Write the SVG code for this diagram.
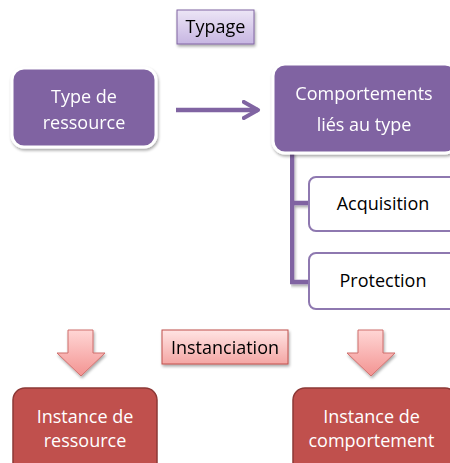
<svg xmlns="http://www.w3.org/2000/svg" width="450" height="463" viewBox="0 0 450 463">
  <defs>
    <linearGradient id="gPurple" x1="0" y1="0" x2="0" y2="1">
      <stop offset="0" stop-color="#ECE5F6"/>
      <stop offset="1" stop-color="#C7B6E2"/>
    </linearGradient>
    <linearGradient id="gPink" x1="0" y1="0" x2="0" y2="1">
      <stop offset="0" stop-color="#FFE4E3"/>
      <stop offset="1" stop-color="#F4A6A4"/>
    </linearGradient>
    <linearGradient id="gArrow" x1="0" y1="0" x2="0" y2="1">
      <stop offset="0" stop-color="#FFD6D5"/>
      <stop offset="1" stop-color="#F39492"/>
    </linearGradient>
    <filter id="shadow" x="-10%" y="-10%" width="130%" height="140%">
      <feGaussianBlur in="SourceAlpha" stdDeviation="1.5"/>
      <feOffset dx="1" dy="2" result="b"/>
      <feComponentTransfer><feFuncA type="linear" slope="0.35"/></feComponentTransfer>
      <feMerge><feMergeNode/><feMergeNode in="SourceGraphic"/></feMerge>
    </filter>
    <marker id="openHead" viewBox="0 0 10 10" refX="8" refY="5" markerWidth="4.5" markerHeight="4.5" orient="auto" markerUnits="strokeWidth">
      <path d="M1,1 L8,5 L1,9" fill="none" stroke="#8064A2" stroke-width="2" stroke-linecap="round" stroke-linejoin="round"/>
    </marker>
  </defs>
  <style>
    text { font-family: "Open Sans", "Liberation Sans", sans-serif; font-size: 18px; text-anchor: middle; }
    .light { fill: #FFFFFF; }
    .dark { fill: #000000; }
    .typeBox { fill: #8064A2; stroke: #FFFFFF; stroke-width: 3; }
    .childBox { fill: #FFFFFF; stroke: #8E78B0; stroke-width: 2; }
    .instBox { fill: #C0504D; stroke: #8C3836; stroke-width: 1.5; }
    .tagPurple { fill: url(#gPurple); stroke: #8064A2; stroke-width: 1; }
    .tagPink { fill: url(#gPink); stroke: #C0504D; stroke-width: 1; }
    .blockArrow { fill: url(#gArrow); stroke: #CF6E6C; stroke-width: 1; }
    .link { fill: none; stroke: #8064A2; stroke-width: 4.5; }
  </style>

  <!-- labels -->
  <g id="typage" filter="url(#shadow)">
    <rect class="tagPurple" x="177" y="10" width="77" height="34"/>
    <text class="dark" x="215.5" y="33">Typage</text>
  </g>
  <g id="instanciation" filter="url(#shadow)">
    <rect class="tagPink" x="162" y="330" width="126" height="34"/>
    <text class="dark" x="225" y="354">Instanciation</text>
  </g>

  <!-- connectors -->
  <g id="connectors">
    <line class="link" x1="176" y1="110" x2="258" y2="110" marker-end="url(#openHead)"/>
    <path class="link" d="M292,152 V282 H309 M292,203 H309" filter="url(#shadow)"/>
    <path class="blockArrow" d="M68,330 H93 V353 H105 L81,376 L57,353 H68 Z" filter="url(#shadow)"/>
    <path class="blockArrow" d="M358,330 H383 V353 H395 L371,376 L347,353 H358 Z" filter="url(#shadow)"/>
  </g>

  <!-- nodes -->
  <g id="type-de-ressource" filter="url(#shadow)">
    <rect class="typeBox" x="12" y="68" width="144" height="79" rx="12"/>
    <text class="light" x="84" y="103">Type de</text>
    <text class="light" x="84" y="129">ressource</text>
  </g>
  <g id="comportements" filter="url(#shadow)">
    <rect class="typeBox" x="273" y="64" width="184" height="89" rx="12"/>
    <text class="light" x="364" y="100">Comportements</text>
    <text class="light" x="364" y="131">liés au type</text>
  </g>
  <g id="acquisition">
    <rect class="childBox" x="309" y="177" width="150" height="54" rx="7"/>
    <text class="dark" x="383" y="210">Acquisition</text>
  </g>
  <g id="protection">
    <rect class="childBox" x="309" y="253" width="150" height="56" rx="7"/>
    <text class="dark" x="383" y="287">Protection</text>
  </g>
  <g id="instance-ressource">
    <rect class="instBox" x="13" y="388" width="144" height="90" rx="12"/>
    <text class="light" x="85" y="423">Instance de</text>
    <text class="light" x="85" y="447">ressource</text>
  </g>
  <g id="instance-comportement">
    <rect class="instBox" x="293" y="388" width="164" height="90" rx="12"/>
    <text class="light" x="371.5" y="423">Instance de</text>
    <text class="light" x="371.5" y="447">comportement</text>
  </g>
</svg>
